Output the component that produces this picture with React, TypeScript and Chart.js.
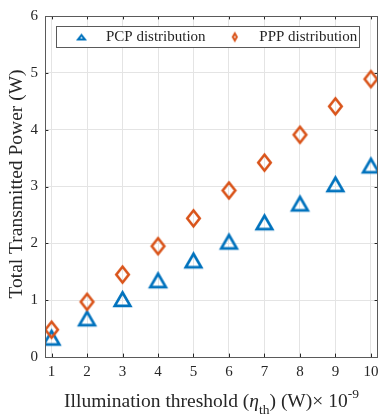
import React, { useEffect, useRef } from "react";
import { Chart, registerables } from "chart.js";

Chart.register(...registerables);

// ---- data ----
const thresholds = [1, 2, 3, 4, 5, 6, 7, 8, 9, 10];
const pcpPower = [0.35, 0.69, 1.03, 1.36, 1.71, 2.04, 2.38, 2.71, 3.05, 3.38];
const pppPower = [0.48, 0.97, 1.45, 1.95, 2.44, 2.93, 3.42, 3.91, 4.41, 4.89];
const yTickValues = [0, 1, 2, 3, 4, 5, 6];
const seriesNames = ["PCP distribution", "PPP distribution"];
const yTitle = "Total Transmitted Power (W)";

const BLUE = "#0072BD";
const ORANGE = "#D95319";
const AXIS = "#262626";
const GRID = "#e4e4e4";
const FONT = '"Liberation Serif", "Times New Roman", serif';

function makeTriangle(w: number, h: number, lw: number, color: string) {
  const c = document.createElement("canvas");
  const cw = Math.ceil(w + lw * 4);
  const ch = Math.ceil(h + lw * 4);
  c.width = cw;
  c.height = ch;
  const ctx = c.getContext("2d")!;
  const halfApex = Math.atan(w / 2 / h);
  const up = lw / (2 * Math.sin(halfApex));
  const down = lw / 2;
  const offY = ch / 2 - (-up + h + down) / 2;
  const cx = cw / 2;
  ctx.beginPath();
  ctx.moveTo(cx, offY);
  ctx.lineTo(cx + w / 2, offY + h);
  ctx.lineTo(cx - w / 2, offY + h);
  ctx.closePath();
  ctx.lineWidth = lw;
  ctx.lineJoin = "miter";
  ctx.miterLimit = 10;
  ctx.strokeStyle = color;
  ctx.stroke();
  return c;
}

function makeDiamond(w: number, h: number, lw: number, color: string) {
  const c = document.createElement("canvas");
  const cw = Math.ceil(w + lw * 4);
  const ch = Math.ceil(h + lw * 5);
  c.width = cw;
  c.height = ch;
  const ctx = c.getContext("2d")!;
  const cx = cw / 2;
  const cy = ch / 2;
  ctx.beginPath();
  ctx.moveTo(cx, cy - h / 2);
  ctx.lineTo(cx + w / 2, cy);
  ctx.lineTo(cx, cy + h / 2);
  ctx.lineTo(cx - w / 2, cy);
  ctx.closePath();
  ctx.lineWidth = lw;
  ctx.lineJoin = "miter";
  ctx.miterLimit = 10;
  ctx.strokeStyle = color;
  ctx.stroke();
  return c;
}

export default function App() {
  const ref = useRef<HTMLCanvasElement>(null);

  useEffect(() => {
    const canvas = ref.current!;
    const triMarker = makeTriangle(15.5, 13.4, 2.7, BLUE);
    const diaMarker = makeDiamond(12.5, 16, 2.6, ORANGE);
    const triLegend = makeTriangle(7, 4.5, 2, BLUE);
    const diaLegend = makeDiamond(4, 7, 2, ORANGE);

    const overlay = {
      id: "matlabOverlay",
      afterDraw(chart: any) {
        const ctx = chart.ctx as CanvasRenderingContext2D;
        const a = chart.chartArea;
        const xs = chart.scales.x;
        const ys = chart.scales.y;
        ctx.save();
        // inward ticks
        ctx.strokeStyle = AXIS;
        ctx.lineWidth = 1;
        const tl = 3.4;
        ctx.beginPath();
        thresholds.forEach((v) => {
          const px = Math.round(xs.getPixelForValue(v)) + 0.5;
          ctx.moveTo(px, a.bottom);
          ctx.lineTo(px, a.bottom - tl);
          ctx.moveTo(px, a.top);
          ctx.lineTo(px, a.top + tl);
        });
        yTickValues.forEach((v) => {
          const py = Math.round(ys.getPixelForValue(v)) + 0.5;
          ctx.moveTo(a.left, py);
          ctx.lineTo(a.left + tl, py);
          ctx.moveTo(a.right, py);
          ctx.lineTo(a.right - tl, py);
        });
        ctx.stroke();
        // box
        ctx.strokeStyle = "#5a5a5a";
        ctx.strokeRect(
          Math.round(a.left) + 0.5,
          Math.round(a.top) + 0.5,
          Math.round(a.right - a.left) - 1,
          Math.round(a.bottom - a.top)
        );

        // legend
        const bx = a.left + 11;
        const by = a.top + 10;
        const bw = 303;
        const bh = 21;
        ctx.fillStyle = "#ffffff";
        ctx.fillRect(bx, by, bw, bh);
        ctx.strokeStyle = "#5a5a5a";
        ctx.strokeRect(Math.round(bx) + 0.5, Math.round(by) + 0.5, bw, bh);
        const ly = by + 11;
        const items = [
          { img: triLegend, mx: bx + 25.5, tx: bx + 50, label: seriesNames[0] },
          { img: diaLegend, mx: bx + 178.8, tx: bx + 203.3, label: seriesNames[1] },
        ];
        ctx.font = `15px ${FONT}`;
        ctx.fillStyle = AXIS;
        ctx.textBaseline = "middle";
        ctx.textAlign = "left";
        items.forEach((it) => {
          ctx.drawImage(it.img, it.mx - it.img.width / 2, ly - it.img.height / 2);
          ctx.fillText(it.label, it.tx, ly);
        });

        // x title with sub/superscripts
        const fs = 19.5;
        const small = 13.5;
        const segs = [
          { t: "Illumination threshold (", f: `${fs}px ${FONT}`, dy: 0 },
          { t: "\u03B7", f: `italic ${fs}px ${FONT}`, dy: 0 },
          { t: "th", f: `${small}px ${FONT}`, dy: 6.5 },
          { t: ") (W)\u00D7 10", f: `${fs}px ${FONT}`, dy: 0 },
          { t: "-9", f: `${small}px ${FONT}`, dy: -9 },
        ];
        let total = 0;
        segs.forEach((s) => {
          ctx.font = s.f;
          total += ctx.measureText(s.t).width;
        });
        let x = (a.left + a.right) / 2 - total / 2;
        const base = a.bottom + 50;
        ctx.textBaseline = "alphabetic";
        segs.forEach((s) => {
          ctx.font = s.f;
          ctx.fillText(s.t, x, base + s.dy);
          x += ctx.measureText(s.t).width;
        });

        // y title
        ctx.save();
        ctx.translate(22, (a.top + a.bottom) / 2 - 2.5);
        ctx.rotate(-Math.PI / 2);
        ctx.font = `${fs}px ${FONT}`;
        ctx.textAlign = "center";
        ctx.textBaseline = "alphabetic";
        ctx.fillText(yTitle, 0, 0);
        ctx.restore();

        ctx.restore();
      },
    };

    const chart = new Chart(canvas, {
      type: "scatter",
      data: {
        datasets: [
          {
            label: seriesNames[0],
            data: thresholds.map((t, i) => ({ x: t, y: pcpPower[i] })),
            pointStyle: triMarker as any,
            pointRadius: 10,
            showLine: false,
            order: 1,
          },
          {
            label: seriesNames[1],
            data: thresholds.map((t, i) => ({ x: t, y: pppPower[i] })),
            pointStyle: diaMarker as any,
            pointRadius: 10,
            showLine: false,
            order: 0,
          },
        ],
      },
      options: {
        animation: false,
        responsive: false,
        events: [],
        layout: { padding: { left: 0, top: 16, right: 2, bottom: 0 } },
        plugins: { legend: { display: false }, tooltip: { enabled: false } },
        scales: {
          x: {
            type: "linear",
            min: 0.815,
            max: 10.2,
            border: { display: false },
            grid: { color: GRID, drawTicks: false, lineWidth: 1 },
            ticks: {
              padding: 6,
              color: AXIS,
              font: { family: FONT, size: 15 },
              maxRotation: 0,
              autoSkip: false,
            },
            afterBuildTicks: (s: any) => {
              s.ticks = thresholds.map((v) => ({ value: v }));
            },
            afterFit: (s: any) => {
              s.height = 58;
              s.paddingLeft = 0;
              s.paddingRight = 0;
            },
          },
          y: {
            type: "linear",
            min: 0,
            max: 6,
            border: { display: false },
            grid: { color: GRID, drawTicks: false, lineWidth: 1 },
            ticks: {
              padding: 7,
              color: AXIS,
              font: { family: FONT, size: 15 },
            },
            afterBuildTicks: (s: any) => {
              s.ticks = yTickValues.map((v) => ({ value: v }));
            },
            afterFit: (s: any) => {
              s.width = 45;
              s.paddingTop = 0;
              s.paddingBottom = 0;
            },
          },
        },
      },
      plugins: [overlay],
    } as any);

    return () => chart.destroy();
  }, []);

  return (
    <div style={{ position: "absolute", left: 0, top: 0, width: 389, height: 415, background: "#fff" }}>
      <canvas ref={ref} width={389} height={415} style={{ display: "block" }} />
    </div>
  );
}
